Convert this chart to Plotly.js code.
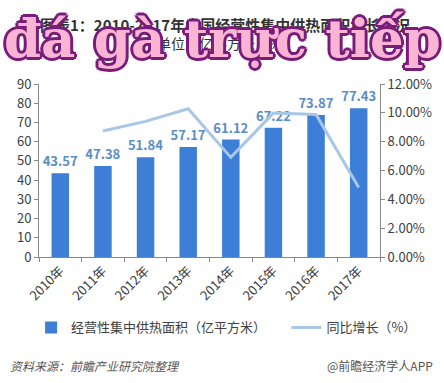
<!DOCTYPE html>
<html><head><meta charset="utf-8">
<script src="https://cdn.plot.ly/plotly-3.0.1.min.js"></script>
<style>html,body{margin:0;padding:0;background:#fff}#c{width:444px;height:383px}</style>
</head><body><div id="c"></div>
<script>
const years = ["2010年","2011年","2012年","2013年","2014年","2015年","2016年","2017年"];
const area = [43.57, 47.38, 51.84, 57.17, 61.12, 67.22, 73.87, 77.43];
const growthYears = ["2011年","2012年","2013年","2014年","2015年","2016年","2017年"];
const growth = [0.0874, 0.0941, 0.1028, 0.0691, 0.0998, 0.0989, 0.0482];
const areaName = "经营性集中供热面积（亿平方米）";
const growthName = "同比增长（%）";
const titleLine1 = "图表1：2010-2017年中国经营性集中供热面积增长情况";
const titleLine2 = "（单位：亿平方米，%）";
const sourceText = "资料来源：前瞻产业研究院整理";
const brandText = "@前瞻经济学人APP";
const overlayText = "đá gà trực tiếp";

const F = '"Noto Sans CJK SC", "Noto Sans", sans-serif';
const traces = [
  {type:'bar', x:years, y:area, name:areaName, width:0.41, legend:'legend',
   marker:{color:'#3d7ed6'}, text:area.map(v=>v.toFixed(2)), textposition:'outside', constraintext:'none',
   textfont:{family:F, size:13, color:'#5a8cc6', weight:700}, cliponaxis:false, hoverinfo:'none'},
  {type:'scatter', mode:'lines', x:growthYears, y:growth, yaxis:'y2', name:growthName, legend:'legend2',
   line:{color:'#a8c6e6', width:3}, hoverinfo:'none'}
];
const outline = '#7a1c7a';
const sh = [[2,0],[-2,0],[0,2],[0,-2],[2,2],[-2,-2],[2,-2],[-2,2],[3,0],[-3,0],[0,3],[0,-3]]
  .map(p=>p[0]+'px '+p[1]+'px 0 '+outline).join(', ');
const legBase = {orientation:'h', xref:'container', yref:'container', y:0.145, xanchor:'left', yanchor:'middle',
  bgcolor:'rgba(0,0,0,0)', font:{size:13, color:'#404040'}, itemwidth:30};
const layout = {
  width:444, height:383, paper_bgcolor:'#fff', plot_bgcolor:'#fff',
  margin:{l:39, r:64, t:84, b:126},
  font:{family:F, color:'#404040'},
  showlegend:true,
  legend:Object.assign({}, legBase, {x:0.07}),
  legend2:Object.assign({}, legBase, {x:0.645}),
  xaxis:{type:'category', tickangle:-45, tickfont:{size:13, color:'#404040'}, showline:true, linecolor:'#888', linewidth:1,
    ticks:'outside', ticklen:4, tickcolor:'#888', tickson:'boundaries', showgrid:false, zeroline:false, fixedrange:true},
  yaxis:{range:[0,90], dtick:10, tickfont:{size:13, color:'#404040'}, showline:true, linecolor:'#888', ticks:'outside', ticklen:4, tickcolor:'#888', showgrid:false, zeroline:false},
  yaxis2:{range:[0,0.12], dtick:0.02, tickformat:'.2%', overlaying:'y', side:'right', tickfont:{size:13, color:'#404040'}, showline:true, linecolor:'#888', ticks:'outside', ticklen:4, tickcolor:'#888', showgrid:false, zeroline:false},
  bargap:0.5,
  annotations:[
    {text:'<b>'+titleLine1+'</b>', xref:'paper', yref:'paper', x:0.545, y:1, yshift:60, xanchor:'center', yanchor:'middle', showarrow:false, font:{size:15, color:'#333'}},
    {text:titleLine2, xref:'paper', yref:'paper', x:0.53, y:1, yshift:41, xanchor:'center', yanchor:'middle', showarrow:false, font:{size:14, color:'#333'}},
    {text:sourceText, xref:'paper', yref:'paper', x:-0.091, y:-0.625, xanchor:'left', yanchor:'middle', showarrow:false, font:{size:12, color:'#555', style:'italic'}},
    {text:brandText, xref:'paper', yref:'paper', x:1.161, y:-0.625, xanchor:'right', yanchor:'middle', showarrow:false, font:{size:12, color:'#555'}},
    {text:'<b>'+overlayText+'</b>', xref:'paper', yref:'paper', x:0.537, y:1, yshift:46, xanchor:'center', yanchor:'middle', showarrow:false,
     font:{family:'"DejaVu Serif", serif', size:53, color:'#f9b5d3', shadow:sh}}
  ]
};
Plotly.newPlot('c', traces, layout, {staticPlot:true, displayModeBar:false});
</script></body></html>
